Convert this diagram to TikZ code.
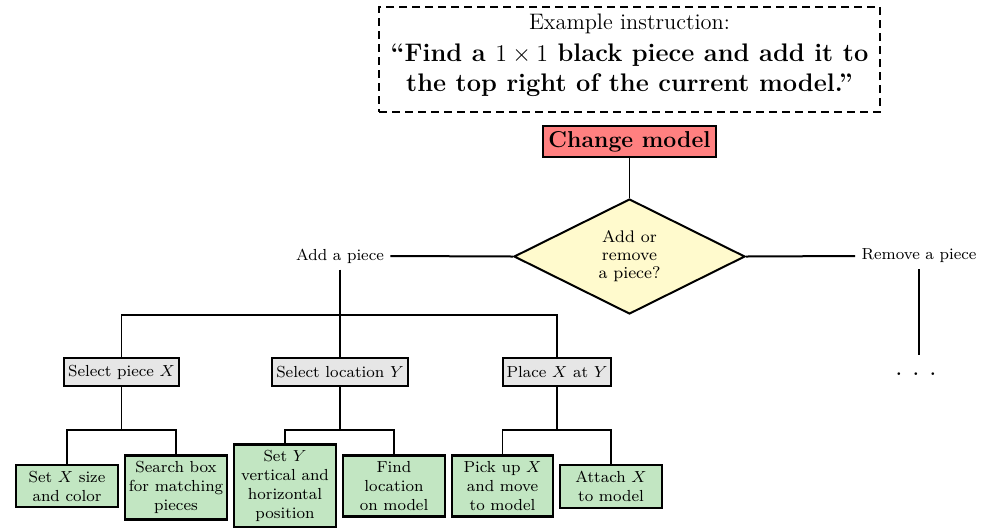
\documentclass[tikz,border=0pt]{standalone}
\usetikzlibrary{shapes.geometric}
\definecolor{cmred}{RGB}{255,128,128}
\definecolor{dyellow}{RGB}{255,250,205}
\definecolor{bgray}{RGB}{230,230,230}
\definecolor{bgreen}{RGB}{194,230,194}
\begin{document}
\begin{tikzpicture}[x=0.5pt,y=-0.5pt,
  thin line/.style={line width=0.55pt},
  thick line/.style={line width=1pt},
  cmbox/.style={draw, line width=1.2pt, fill=cmred, minimum width=86.5pt, minimum height=15.5pt, inner sep=1pt, font=\fontsize{11.5}{14}\selectfont\bfseries},
  decision/.style={draw, line width=1pt, fill=dyellow, shape=diamond, aspect=2, inner sep=0pt, minimum width=115.5pt, minimum height=57.5pt, align=center, font=\fontsize{8.4}{9}\selectfont},
  branchlbl/.style={font=\footnotesize, inner sep=3pt},
  graybox/.style={draw, line width=1pt, fill=bgray, minimum height=14pt, inner xsep=2pt, font=\footnotesize},
  greenbox/.style={draw, line width=1.2pt, fill=bgreen, minimum width=51pt, inner xsep=2pt, inner ysep=3pt, align=center, font=\footnotesize}
]
\useasboundingbox (0,0) rectangle (987,527);

% example instruction
\node[draw, line width=0.6pt, dash pattern=on 4pt off 2.5pt, minimum width=250.5pt, minimum height=52.5pt, inner sep=0pt] (ex) at (629.5,59.5) {};
\node[font=\fontsize{11.2}{13}\selectfont, inner sep=0pt] (exhead) at (629.5,24) {Example instruction:};
\node[font=\fontsize{12.7}{15}\selectfont\bfseries, align=center, inner sep=0pt] (extext) at (629.5,70) {``Find a $1\times1$ black piece and add it to\\ the top right of the current model.''};

% top
\node[cmbox] (cm) at (629.5,141.5) {Change model};
\node[decision] (d) at (629.5,256.5) {Add or\\ remove\\ a piece?};
\draw[thin line] (cm.south) -- (d.north);

\node[branchlbl] (add) at (340,256) {Add a piece};
\node[branchlbl] (rm) at (919,256) {Remove a piece};
\draw[thick line] (add.east) -- (d.west);
\draw[thick line] (d.east) -- (rm.west);

\coordinate (rmend) at (919,355);
\draw[thin line] (rm.south) -- (rmend);
\node[font=\fontsize{14}{16}\selectfont, inner sep=0pt] (dots) at (916,374) {.\,\,.\,\,.};

% second level
\node[graybox, minimum width=55.5pt] (sp) at (121.5,372) {Select piece $X$};
\node[graybox, minimum width=66pt] (sl) at (340,372) {Select location $Y$};
\node[graybox, minimum width=53pt] (pl) at (557,372) {Place $X$ at $Y$};

\draw[thin line] (add.south) -- (sl.north);
\draw[thin line] (sp.north) |- (pl.north |- 0,315) -- (pl.north);

% third level
\node[greenbox] (g1) at (67,486) {Set $X$ size\\ and color};
\node[greenbox] (g2) at (176,487.5) {Search box\\ for matching\\ pieces};
\node[greenbox] (g3) at (285,486) {Set $Y$\\ vertical and\\ horizontal\\ position};
\node[greenbox] (g4) at (394,486) {Find\\ location\\ on model};
\node[greenbox, minimum width=50.5pt] (g5) at (502.5,486) {Pick up $X$\\ and move\\ to model};
\node[greenbox] (g6) at (611,486.5) {Attach $X$\\ to model};

\draw[thin line] (sp.south) -- (sp.south |- 0,430);
\draw[thin line] (g1.north) |- (g2.north |- 0,430) -- (g2.north);
\draw[thin line] (sl.south) -- (sl.south |- 0,430);
\draw[thin line] (g3.north) |- (g4.north |- 0,430) -- (g4.north);
\draw[thin line] (pl.south) -- (pl.south |- 0,430);
\draw[thin line] (g5.north) |- (g6.north |- 0,430) -- (g6.north);
\end{tikzpicture}
\end{document}
